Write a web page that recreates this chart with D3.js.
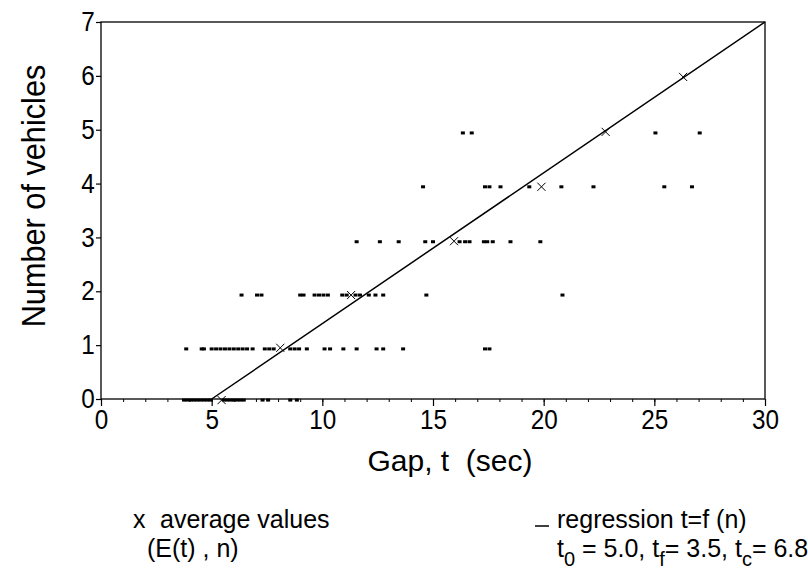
<!DOCTYPE html>
<html>
<head>
<meta charset="utf-8">
<script src="https://cdn.jsdelivr.net/npm/d3@7"></script>
<style>
  html, body { margin: 0; padding: 0; background: #fff; }
  svg { display: block; }
  text { font-family: "Liberation Sans", Arial, Helvetica, sans-serif; fill: #000; }
</style>
</head>
<body>
<svg id="chart" width="808" height="569"></svg>
<script>
// ---- data ----
const xTickValues = [0, 5, 10, 15, 20, 25, 30];
const yTickValues = [0, 1, 2, 3, 4, 5, 6, 7];

// observed gaps (sec) for each number of vehicles
const gapsN0 = [3.75, 3.9, 4.05, 4.2, 4.35, 4.5, 4.65, 4.8, 4.95, 5.55, 5.7, 5.85, 6.0, 6.15, 6.3, 6.45, 7.3, 7.55, 8.55, 8.85];
const gapsN1 = [3.85, 4.55, 4.65, 5.0, 5.2, 5.4, 5.6, 5.8, 6.0, 6.2, 6.4, 6.6, 6.85, 7.4, 7.6, 7.8, 8.55, 8.75, 8.95, 9.3, 10.1, 10.35, 10.95, 11.55, 12.45, 12.75, 13.65, 17.35, 17.55];
const gapsN2 = [6.35, 7.05, 7.25, 9.0, 9.15, 9.65, 9.85, 10.05, 10.25, 10.9, 11.1, 11.5, 11.7, 12.1, 12.4, 12.75, 14.7, 20.85];
const gapsN3 = [11.55, 12.6, 13.45, 14.65, 15.0, 16.2, 16.45, 16.65, 17.3, 17.45, 17.7, 18.5, 19.85];
const gapsN4 = [14.55, 17.35, 17.55, 18.05, 19.35, 20.8, 22.25, 25.45, 26.7];
const gapsN5 = [16.35, 16.75, 25.05, 27.05];
const rowLevels = [-0.02, 0.93, 1.93, 2.92, 3.94, 4.94];

// average values (E(t), n)
const meanGap = [5.45, 8.1, 11.3, 15.95, 19.9, 22.8, 26.3];
const meanN = [-0.02, 0.95, 1.93, 2.93, 3.94, 4.96, 5.98];

// regression t = f(n): endpoints
const regGap = [5.0, 30.0];
const regN = [0, 7];

// ---- drawing ----
const svg = d3.select("#chart");
const x = d3.scaleLinear().domain([0, 30]).range([101, 765]);
const y = d3.scaleLinear().domain([0, 7]).range([399, 22]);

// frame
svg.append("rect")
  .attr("x", x(0)).attr("y", y(7))
  .attr("width", x(30) - x(0)).attr("height", y(0) - y(7))
  .attr("fill", "none").attr("stroke", "#000").attr("stroke-width", 1.3);

// minor x ticks
svg.append("g")
  .attr("transform", `translate(0,${y(0)})`)
  .call(d3.axisBottom(x).tickValues(d3.range(0, 31, 1)).tickSize(3).tickFormat(""))
  .call(g => g.select(".domain").remove())
  .call(g => g.selectAll("line").attr("stroke", "#000"));

// major x axis
svg.append("g")
  .attr("transform", `translate(0,${y(0)})`)
  .call(d3.axisBottom(x).tickValues(xTickValues).tickSize(7).tickPadding(4).tickFormat(d3.format("d")))
  .call(g => g.select(".domain").remove())
  .call(g => g.selectAll("line").attr("stroke", "#000").attr("stroke-width", 1.2))
  .call(g => g.selectAll("text").attr("font-size", 27).attr("fill", "#000")
    .attr("transform", "scale(0.9,1)")
    .attr("font-family", '"Liberation Sans", Arial, sans-serif'));

// y axis
svg.append("g")
  .attr("transform", `translate(${x(0)},0)`)
  .call(d3.axisLeft(y).tickValues(yTickValues).tickSize(5).tickPadding(2).tickFormat(d3.format("d")))
  .call(g => g.select(".domain").remove())
  .call(g => g.selectAll("line").attr("stroke", "#000").attr("stroke-width", 1.2))
  .call(g => g.selectAll("text").attr("font-size", 27).attr("fill", "#000")
    .attr("transform", "scale(0.9,1)")
    .attr("font-family", '"Liberation Sans", Arial, sans-serif'));

// regression line
const line = d3.line().x(d => x(d[0])).y(d => y(d[1]));
svg.append("path")
  .datum(regGap.map((g, i) => [g, regN[i]]))
  .attr("d", line)
  .attr("fill", "none").attr("stroke", "#000").attr("stroke-width", 1.5);

// observed points
const rows = [gapsN0, gapsN1, gapsN2, gapsN3, gapsN4, gapsN5];
const pts = [];
rows.forEach((r, i) => r.forEach(t => pts.push([t, rowLevels[i]])));
svg.append("g").selectAll("rect")
  .data(pts).join("rect")
  .attr("x", d => x(d[0]) - 2)
  .attr("y", d => y(d[1]) - 1.5)
  .attr("width", 4).attr("height", 3)
  .attr("fill", "#000");

// average markers
const xSym = d3.symbol().type(d3.symbolX).size(45);
svg.append("g").selectAll("path")
  .data(meanGap.map((g, i) => [g, meanN[i]])).join("path")
  .attr("transform", d => `translate(${x(d[0])},${y(d[1])})`)
  .attr("d", xSym)
  .attr("fill", "none").attr("stroke", "#000").attr("stroke-width", 1);

// axis titles
svg.append("text")
  .attr("transform", "translate(45,196) rotate(-90) scale(0.93,1)")
  .attr("text-anchor", "middle")
  .attr("font-size", 33)
  .text("Number of vehicles");

svg.append("text")
  .attr("x", 450).attr("y", 471)
  .attr("text-anchor", "middle")
  .attr("font-size", 30)
  .style("white-space", "pre")
  .text("Gap, t  (sec)");

// legend
svg.append("text").attr("x", 133).attr("y", 528).attr("font-size", 25).text("x");
svg.append("text").attr("x", 160).attr("y", 528).attr("font-size", 25).text("average values");
svg.append("text").attr("x", 147).attr("y", 557).attr("font-size", 25).text("(E(t) , n)");

svg.append("line").attr("x1", 535).attr("x2", 549).attr("y1", 526).attr("y2", 526)
  .attr("stroke", "#000").attr("stroke-width", 1.5);
svg.append("text").attr("x", 557).attr("y", 528).attr("font-size", 25).text("regression t=f (n)");

const t2 = svg.append("text").attr("x", 557).attr("y", 557).attr("font-size", 25).style("white-space", "pre");
t2.append("tspan").text("t");
t2.append("tspan").attr("dy", 9).attr("font-size", 20).text("0");
t2.append("tspan").attr("dy", -9).text(" = 5.0, t");
t2.append("tspan").attr("dy", 9).attr("font-size", 20).text("f");
t2.append("tspan").attr("dy", -9).text("= 3.5, t");
t2.append("tspan").attr("dy", 9).attr("font-size", 20).text("c");
t2.append("tspan").attr("dy", -9).text("= 6.8");
</script>
</body>
</html>
